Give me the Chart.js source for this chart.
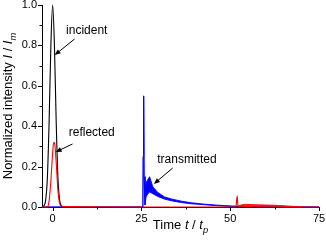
<!DOCTYPE html>
<html>
<head>
<meta charset="utf-8">
<script src="https://cdn.jsdelivr.net/npm/chart.js@4.4.0/dist/chart.umd.min.js"></script>
<style>
  html, body { margin: 0; padding: 0; background: #fff; }
  #wrap { width: 326px; height: 241px; }
</style>
</head>
<body>
<div id="wrap"><canvas id="pulseChart"></canvas></div>
<script>
  // incident pulse
  const incidentT = [-3, -2.5, -2, -1.5, -1, -0.5, 0, 0.5, 1, 1.5, 2, 2.5, 3];
  const incidentI = [0, 0.005, 0.03, 0.14, 0.42, 0.8, 1.0, 0.8, 0.42, 0.14, 0.03, 0.005, 0];

  // reflected pulse (main trace)
  const reflectedT = [-3, -1.5, -1, -0.5, 0, 0.3, 0.6, 1, 1.5, 2, 2.5, 4, 10, 25, 51.6, 51.8, 51.97, 52.15, 52.4, 75];
  const reflectedI = [0, 0, 0.03, 0.13, 0.27, 0.32, 0.31, 0.22, 0.08, 0.015, 0.004, 0.002, 0.001, 0, 0, 0.03, 0.055, 0.01, 0.004, 0];

  // second reflected echo, drawn as a band (fast oscillations)
  const echoT = [52.4, 53, 54, 55, 56, 58, 60, 62, 64, 66, 68, 70];
  const echoUpper = [0.004, 0.01, 0.013, 0.013, 0.012, 0.011, 0.01, 0.009, 0.007, 0.005, 0.003, 0.001];
  const echoLower = [0.004, 0.006, 0.008, 0.008, 0.007, 0.007, 0.006, 0.005, 0.004, 0.003, 0.001, 0];

  // transmitted pulse envelope
  const transT = [-3, 25.4, 25.5, 25.62, 25.75, 26.0, 26.3, 26.6, 27.3, 28.2, 29.6, 31.5, 33.4, 36.2, 39, 42.8, 46.5, 50.3, 55, 60, 75];
  const transUpper = [0, 0, 0.25, 0.55, 0.15, 0.05, 0.12, 0.13, 0.15, 0.10, 0.072, 0.05, 0.04, 0.029, 0.021, 0.014, 0.009, 0.005, 0.003, 0.001, 0];
  const transLower = [0, 0, 0.25, 0.55, 0.15, 0.01, 0.05, 0.06, 0.075, 0.066, 0.052, 0.039, 0.031, 0.022, 0.016, 0.011, 0.006, 0.003, 0.001, 0, 0];

  // axis ticks
  const xMajor = [0, 25, 50, 75];
  const xMinor = [12.5, 37.5, 62.5];
  const yMajor = [0, 0.2, 0.4, 0.6, 0.8, 1.0];
  const yMinor = [0.1, 0.3, 0.5, 0.7, 0.9];

  const xTitle = [['Time ', ''], ['t', 'i'], [' / ', ''], ['t', 'i'], ['p', 'is']];
  const yTitle = [['Normalized intensity ', ''], ['I', 'i'], [' / ', ''], ['I', 'i'], ['m', 'is']];

  // labels with arrows, in data units
  const notes = [
    { text: 'incident', tx: 9.6, ty: 0.871, from: [6.2, 0.832], to: [0.56, 0.752] },
    { text: 'reflected', tx: 11.0, ty: 0.366, from: [5.6, 0.312], to: [0.85, 0.272] },
    { text: 'transmitted', tx: 37.8, ty: 0.233, from: [33.8, 0.193], to: [28.5, 0.114] }
  ];

  const FONT = '"Liberation Sans", Arial, sans-serif';
  const pts = (t, v) => t.map((x, i) => ({ x: x, y: v[i] }));

  function richWidth(ctx, parts, size) {
    let w = 0;
    parts.forEach(([s, st]) => {
      const sub = st.includes('s');
      ctx.font = (st.includes('i') ? 'italic ' : '') + (sub ? size * 0.72 : size) + 'px ' + FONT;
      w += ctx.measureText(s).width;
    });
    return w;
  }

  function drawRich(ctx, parts, size, x0) {
    let x = x0;
    parts.forEach(([s, st]) => {
      const sub = st.includes('s');
      ctx.font = (st.includes('i') ? 'italic ' : '') + (sub ? size * 0.72 : size) + 'px ' + FONT;
      ctx.fillText(s, x, sub ? size * 0.32 : 0);
      x += ctx.measureText(s).width;
    });
  }

  // fixed axis boxes, no extra room for overhanging labels
  function fixBox(prop, val) {
    return s => {
      s[prop] = val;
      s.paddingTop = 0; s.paddingBottom = 0; s.paddingLeft = 0; s.paddingRight = 0;
    };
  }

  const axisDecor = {
    id: 'axisDecor',
    afterDraw(chart) {
      const { ctx, chartArea: a, scales: { x, y } } = chart;
      ctx.save();
      ctx.strokeStyle = '#000';
      ctx.lineWidth = 1;
      ctx.beginPath();
      xMajor.forEach(v => { const p = Math.round(x.getPixelForValue(v)) + 0.5; ctx.moveTo(p, a.bottom); ctx.lineTo(p, a.bottom + 4); });
      xMinor.forEach(v => { const p = Math.round(x.getPixelForValue(v)) + 0.5; ctx.moveTo(p, a.bottom); ctx.lineTo(p, a.bottom + 2.5); });
      yMajor.forEach(v => { const p = Math.round(y.getPixelForValue(v)) + 0.5; ctx.moveTo(a.left, p); ctx.lineTo(a.left - 4, p); });
      yMinor.forEach(v => { const p = Math.round(y.getPixelForValue(v)) + 0.5; ctx.moveTo(a.left, p); ctx.lineTo(a.left - 2.5, p); });
      ctx.stroke();

      ctx.fillStyle = '#000';
      ctx.textAlign = 'left';
      ctx.textBaseline = 'alphabetic';
      const size = 13;
      const cx = (a.left + a.right) / 2;
      ctx.save();
      ctx.translate(0, 229);
      drawRich(ctx, xTitle, size, cx - richWidth(ctx, xTitle, size) / 2);
      ctx.restore();

      const cy = (a.top + a.bottom) / 2;
      ctx.save();
      ctx.translate(12, cy);
      ctx.rotate(-Math.PI / 2);
      drawRich(ctx, yTitle, size, -richWidth(ctx, yTitle, size) / 2);
      ctx.restore();

      // annotations
      ctx.font = '12px ' + FONT;
      ctx.textAlign = 'center';
      ctx.textBaseline = 'middle';
      notes.forEach(n => {
        ctx.fillText(n.text, x.getPixelForValue(n.tx), y.getPixelForValue(n.ty));
        const x1 = x.getPixelForValue(n.from[0]), y1 = y.getPixelForValue(n.from[1]);
        const x2 = x.getPixelForValue(n.to[0]), y2 = y.getPixelForValue(n.to[1]);
        const ang = Math.atan2(y2 - y1, x2 - x1);
        ctx.beginPath();
        ctx.moveTo(x1, y1);
        ctx.lineTo(x2 - 4 * Math.cos(ang), y2 - 4 * Math.sin(ang));
        ctx.stroke();
        ctx.beginPath();
        ctx.moveTo(x2, y2);
        ctx.lineTo(x2 - 6 * Math.cos(ang) + 2.5 * Math.sin(ang), y2 - 6 * Math.sin(ang) - 2.5 * Math.cos(ang));
        ctx.lineTo(x2 - 6 * Math.cos(ang) - 2.5 * Math.sin(ang), y2 - 6 * Math.sin(ang) + 2.5 * Math.cos(ang));
        ctx.closePath();
        ctx.fill();
      });
      ctx.restore();
    }
  };

  const line = { pointRadius: 0, borderWidth: 1.1, tension: 0, clip: false, fill: false };

  new Chart(document.getElementById('pulseChart'), {
    type: 'line',
    data: {
      datasets: [
        Object.assign({}, line, { label: 'reflected', data: pts(reflectedT, reflectedI), borderColor: '#ff0000', order: 0, cubicInterpolationMode: 'monotone' }),
        Object.assign({}, line, { label: 'echo upper', data: pts(echoT, echoUpper), borderColor: '#ff0000', borderWidth: 0.8, order: 0 }),
        Object.assign({}, line, { label: 'echo lower', data: pts(echoT, echoLower), borderColor: '#ff0000', borderWidth: 0.8, backgroundColor: '#ff0000', fill: '-1', order: 0 }),
        Object.assign({}, line, { label: 'incident', data: pts(incidentT, incidentI), borderColor: '#000000', order: 1, cubicInterpolationMode: 'monotone' }),
        Object.assign({}, line, { label: 'transmitted upper', data: pts(transT, transUpper), borderColor: '#0000ff', borderWidth: 0.9, order: 2 }),
        Object.assign({}, line, { label: 'transmitted lower', data: pts(transT, transLower), borderColor: '#0000ff', borderWidth: 0.9, backgroundColor: '#0000ff', fill: '-1', order: 2 })
      ]
    },
    options: {
      responsive: true,
      maintainAspectRatio: false,
      animation: false,
      devicePixelRatio: 1,
      layout: { padding: { top: 5, right: 7, left: 0, bottom: 0 } },
      plugins: { legend: { display: false }, tooltip: { enabled: false } },
      scales: {
        x: {
          type: 'linear', min: -3, max: 75,
          afterFit: fixBox('height', 34),
          afterBuildTicks: s => { s.ticks = xMajor.map(v => ({ value: v })); },
          grid: { display: false, drawTicks: false },
          border: { display: true, color: '#000', width: 1 },
          ticks: { padding: 5, color: '#000', font: { family: FONT, size: 11 }, maxRotation: 0, callback: v => String(v) }
        },
        y: {
          type: 'linear', min: 0, max: 1,
          afterFit: fixBox('width', 42),
          afterBuildTicks: s => { s.ticks = yMajor.map(v => ({ value: v })); },
          grid: { display: false, drawTicks: false },
          border: { display: true, color: '#000', width: 1 },
          ticks: { padding: 5, color: '#000', font: { family: FONT, size: 11 }, callback: v => v.toFixed(1) }
        }
      }
    },
    plugins: [axisDecor]
  });
</script>
</body>
</html>
